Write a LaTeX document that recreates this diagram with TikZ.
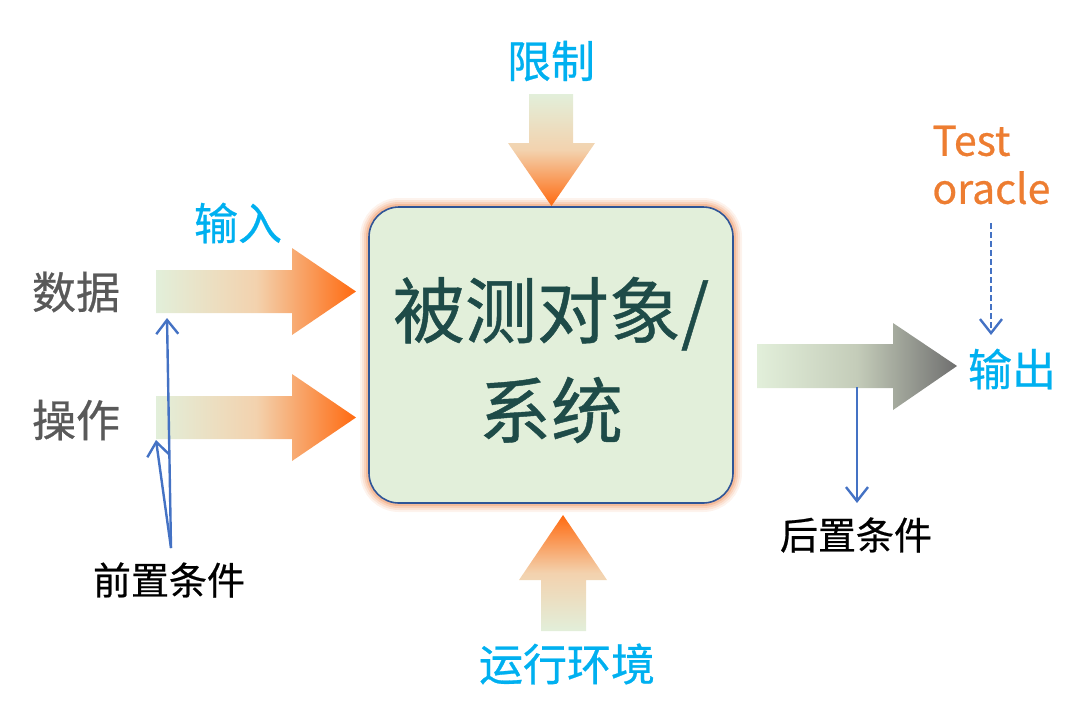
\documentclass[tikz,border=0pt]{standalone}
\usepackage{fontspec}
\setmainfont[FakeBold=0.6]{Noto Sans CJK SC}
\usetikzlibrary{arrows.meta}
\definecolor{boxgreen}{HTML}{E2EFDA}
\definecolor{hotorange}{HTML}{FF6A10}
\definecolor{peach}{HTML}{F3D2AE}
\definecolor{sage}{HTML}{C4CCB9}
\definecolor{outgrey}{HTML}{6F6F6F}
\definecolor{skyblue}{HTML}{00B0F0}
\definecolor{linkblue}{HTML}{4472C4}
\definecolor{rimblue}{HTML}{2F5597}
\definecolor{deepteal}{HTML}{1E4B48}
\definecolor{oracleorange}{HTML}{ED7D31}
\definecolor{greytext}{HTML}{595959}
\definecolor{glow}{HTML}{EE8A50}
\begin{document}
\begin{tikzpicture}[x=0.5pt,y=-0.5pt,
  tag/.style={inner sep=0pt,font=\fontsize{22pt}{26pt}\selectfont,skyblue},
  side/.style={inner sep=0pt,font=\fontsize{22pt}{26pt}\selectfont,greytext},
  cond/.style={inner sep=0pt,font=\fontsize{19pt}{22pt}\selectfont,black},
  link/.style={linkblue,line width=1.2pt,-{Straight Barb[length=7pt,width=11pt]}},
  warm/.style={left color=boxgreen,right color=hotorange,middle color=peach}]
\useasboundingbox (0,0) rectangle (1080,714);
\foreach \w/\o in {18/0.1,14/0.14,10/0.2,6/0.3}
  \draw[glow,line width=\w*0.5pt,opacity=\o,rounded corners=15pt] (369,207) rectangle (733,503);
\draw[rimblue,fill=boxgreen,line width=0.8pt,rounded corners=15pt] (369,207) rectangle (733,503);
\node[font=\fontsize{36pt}{50pt}\selectfont,deepteal,align=center,inner sep=0pt] (sut) at (551,360) {被测对象/\\系统};
\shade[warm] (156,270) -- (292,270) -- (292,248) -- (356,291.5) -- (292,335) -- (292,313) -- (156,313) -- cycle;
\shade[warm] (156,396) -- (292,396) -- (292,374) -- (356,417.5) -- (292,461) -- (292,439) -- (156,439) -- cycle;
\shade[top color=boxgreen,bottom color=hotorange,middle color=peach] (529,94) -- (573,94) -- (573,143) -- (595,143) -- (551.5,206) -- (508,143) -- (529,143) -- cycle;
\shade[top color=hotorange,bottom color=boxgreen,middle color=peach] (541,631) -- (586,631) -- (586,580) -- (607,580) -- (563,515) -- (519,580) -- (541,580) -- cycle;
\shade[left color=boxgreen,right color=outgrey,middle color=sage] (757,344) -- (893,344) -- (893,323) -- (957,366) -- (893,410) -- (893,388) -- (757,388) -- cycle;
\node[tag] (limit) at (551,61) {限制};
\node[tag] (input) at (238,223) {输入};
\node[tag] (env) at (567,664) {运行环境};
\node[tag] (output) at (1012,369) {输出};
\node[side] (data) at (76,292) {数据};
\node[side] (ops) at (76,420) {操作};
\node[cond] (pre) at (169,580) {前置条件};
\node[cond] (post) at (856,535) {后置条件};
\node[font=\fontsize{20.5pt}{24pt}\selectfont,oracleorange,align=left,anchor=west,inner sep=0pt] (oracle) at (932,165) {Test\\oracle};
\coordinate (preTop) at (171,548);
\coordinate (dataFoot) at (167,318);
\coordinate (opsFoot) at (156,440);
\coordinate (outFoot) at (857,387);
\coordinate (postTop) at (857,503);
\coordinate (oracleFoot) at (991,223);
\coordinate (outTop) at (991,335);
\draw[link] (preTop) -- (dataFoot);
\draw[link] (preTop) -- (opsFoot);
\draw[link] (outFoot) -- (postTop);
\draw[link,dash pattern=on 3pt off 1.5pt] (oracleFoot) -- (outTop);
\end{tikzpicture}
\end{document}
